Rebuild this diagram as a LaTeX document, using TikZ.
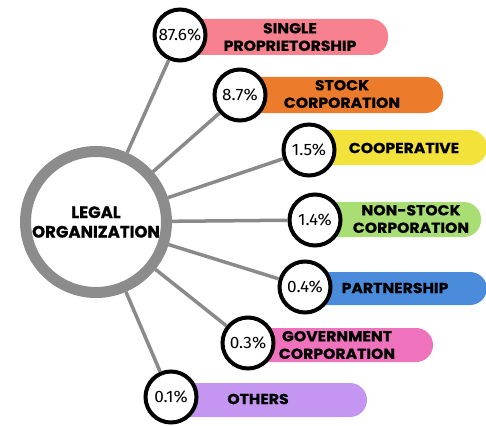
\documentclass[tikz,border=0pt]{standalone}
\usepackage{fontspec}
\setmainfont{Fira Sans}[FakeStretch=1.04]
\newfontfamily\heavyfont{Poppins}[FakeStretch=1.08,BoldFeatures={FakeBold=0.8}]
\newfontfamily\centerfont{Poppins}[BoldFeatures={FakeBold=0.8}]
\definecolor{pinkA}{HTML}{F7818F}
\definecolor{orangeA}{HTML}{EC7C2C}
\definecolor{yellowA}{HTML}{F3E23A}
\definecolor{greenA}{HTML}{A9DE74}
\definecolor{blueA}{HTML}{4B8BDC}
\definecolor{magentaA}{HTML}{EF72BD}
\definecolor{purpleA}{HTML}{C495F1}
\definecolor{ringgray}{HTML}{8C8C8C}
\definecolor{linkgray}{HTML}{8A8A8A}
\begin{document}
\begin{tikzpicture}[x=1pt,y=-1pt,
  pct/.style={circle,draw=black,line width=4pt,fill=white,minimum size=51pt,inner sep=0pt,font=\fontsize{16.5}{16.5}\selectfont},
  lbl/.style={align=center,inner sep=0pt,font=\heavyfont\fontsize{14.5}{17.5}\selectfont\bfseries},
  link/.style={draw=linkgray,line width=3.5pt},
  pill/.style={rounded corners=17pt}]
\useasboundingbox (0,0) rectangle (486,425);
% pills
\fill[pinkA,pill]    (180,19)  rectangle (388,55);
\fill[orangeA,pill]  (240,77)  rectangle (443,113);
\fill[yellowA,pill]  (309,130) rectangle (487,165);
\fill[greenA,pill]   (315,202) rectangle (481,237);
\fill[blueA,pill]    (305,272) rectangle (487,305);
\fill[magentaA,pill] (248,328) rectangle (433,362);
\fill[purpleA,pill]  (171,383) rectangle (367,417);
% labels
\node[lbl] (t1) at (290,37)  {SINGLE\\PROPRIETORSHIP};
\node[lbl] (t2) at (342,94)  {STOCK\\CORPORATION};
\node[lbl] (t3) at (404,148) {COOPERATIVE};
\node[lbl] (t4) at (411,219) {NON-STOCK\\CORPORATION};
\node[lbl] (t5) at (395,288) {PARTNERSHIP};
\node[lbl] (t6) at (337,345) {GOVERNMENT\\CORPORATION};
\node[lbl] (t7) at (258,399) {OTHERS};
% centre
\node[circle,draw=ringgray,line width=11pt,fill=white,minimum size=141pt,inner sep=0pt,align=center,
      font=\centerfont\fontsize{16.5}{19.5}\selectfont\bfseries] (c) at (96,222) {LEGAL\\ORGANIZATION};
% percentage circles
\node[pct] (p1) at (180,35)  {87.6\%};
\node[pct] (p2) at (240,95)  {8.7\%};
\node[pct] (p3) at (309,150) {1.5\%};
\node[pct] (p4) at (315,220) {1.4\%};
\node[pct] (p5) at (305,287) {0.4\%};
\node[pct] (p6) at (248,343) {0.3\%};
\node[pct] (p7) at (171,397) {0.1\%};
% connectors
\foreach \p in {p1,p2,p3,p4,p5,p6,p7}
  \draw[link] (c) -- (\p);
\end{tikzpicture}
\end{document}
